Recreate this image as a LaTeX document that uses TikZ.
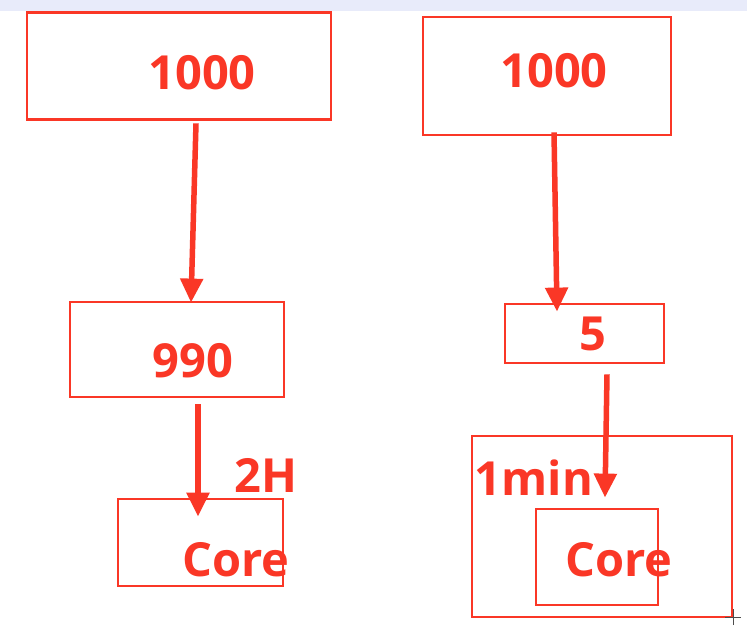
\documentclass[tikz,border=0pt]{standalone}
\usepackage{fontspec}
\setmainfont{Open Sans}
\usetikzlibrary{arrows.meta}
\definecolor{pptred}{RGB}{250,55,38}
\definecolor{topbar}{RGB}{232,235,250}
\tikzset{
  box/.style={draw=pptred,line width=2.8pt,inner sep=0pt},
  num/.style={text=pptred,inner sep=0pt,font=\bfseries\fontsize{47}{47}\selectfont},
  arr/.style={draw=pptred,line width=5.5pt,-{Triangle[length=24pt,width=22pt]}}
}
\begin{document}
\begin{tikzpicture}[x=1pt,y=-1pt]
  \useasboundingbox (0,0) rectangle (747,628);
  \fill[white] (0,0) rectangle (747,628);
  \fill[topbar] (0,0) rectangle (747,11);
  % left column
  \node[box,minimum width=304pt,minimum height=107pt] (L1) at (179,66) {};
  \node[box,minimum width=214pt,minimum height=95pt] (L2) at (177,349.5) {};
  \node[box,minimum width=165pt,minimum height=87pt] (L3) at (200.5,542.5) {};
  % right column
  \node[box,minimum width=248pt,minimum height=118pt] (R1) at (547,76) {};
  \node[box,minimum width=159pt,minimum height=59pt] (R2) at (584.5,333.5) {};
  \node[box,minimum width=260pt,minimum height=181pt] (R3) at (602,526.5) {};
  \node[box,minimum width=122pt,minimum height=96pt] (R4) at (597,557) {};
  % labels
  \node[num] (tL1) at (202,73) {1000};
  \node[num] (tL2) at (193,361) {990};
  \node[num] (tH)  at (266,475) {2H};
  \node[num] (tL3) at (236,560) {Core};
  \node[num] (tR1) at (554,71) {1000};
  \node[num] (tR2) at (593,334) {5};
  \node[num] (tM)  at (534,478) {1min};
  \node[num] (tR4) at (619,560) {Core};
  % arrows
  \draw[arr] ([shift={(17,2.5)}]L1.south) -- ([shift={(14,2)}]L2.north);
  \draw[arr] ([shift={(21,6)}]L2.south) -- ([shift={(-2.5,19)}]L3.north);
  \draw[arr] ([shift={(7,-4)}]R1.south) -- ([shift={(-27.5,9)}]R2.north);
  \draw[arr] ([shift={(22.5,10)}]R2.south) -- ([shift={(8,-10)}]R4.north);
  % cursor
  \coordinate (cur) at (733,617);
  \draw[black!70,line width=0.8pt] ([xshift=-8pt]cur) -- ([xshift=8pt]cur)
    ([yshift=-8pt]cur) -- ([yshift=8pt]cur);
\end{tikzpicture}
\end{document}
